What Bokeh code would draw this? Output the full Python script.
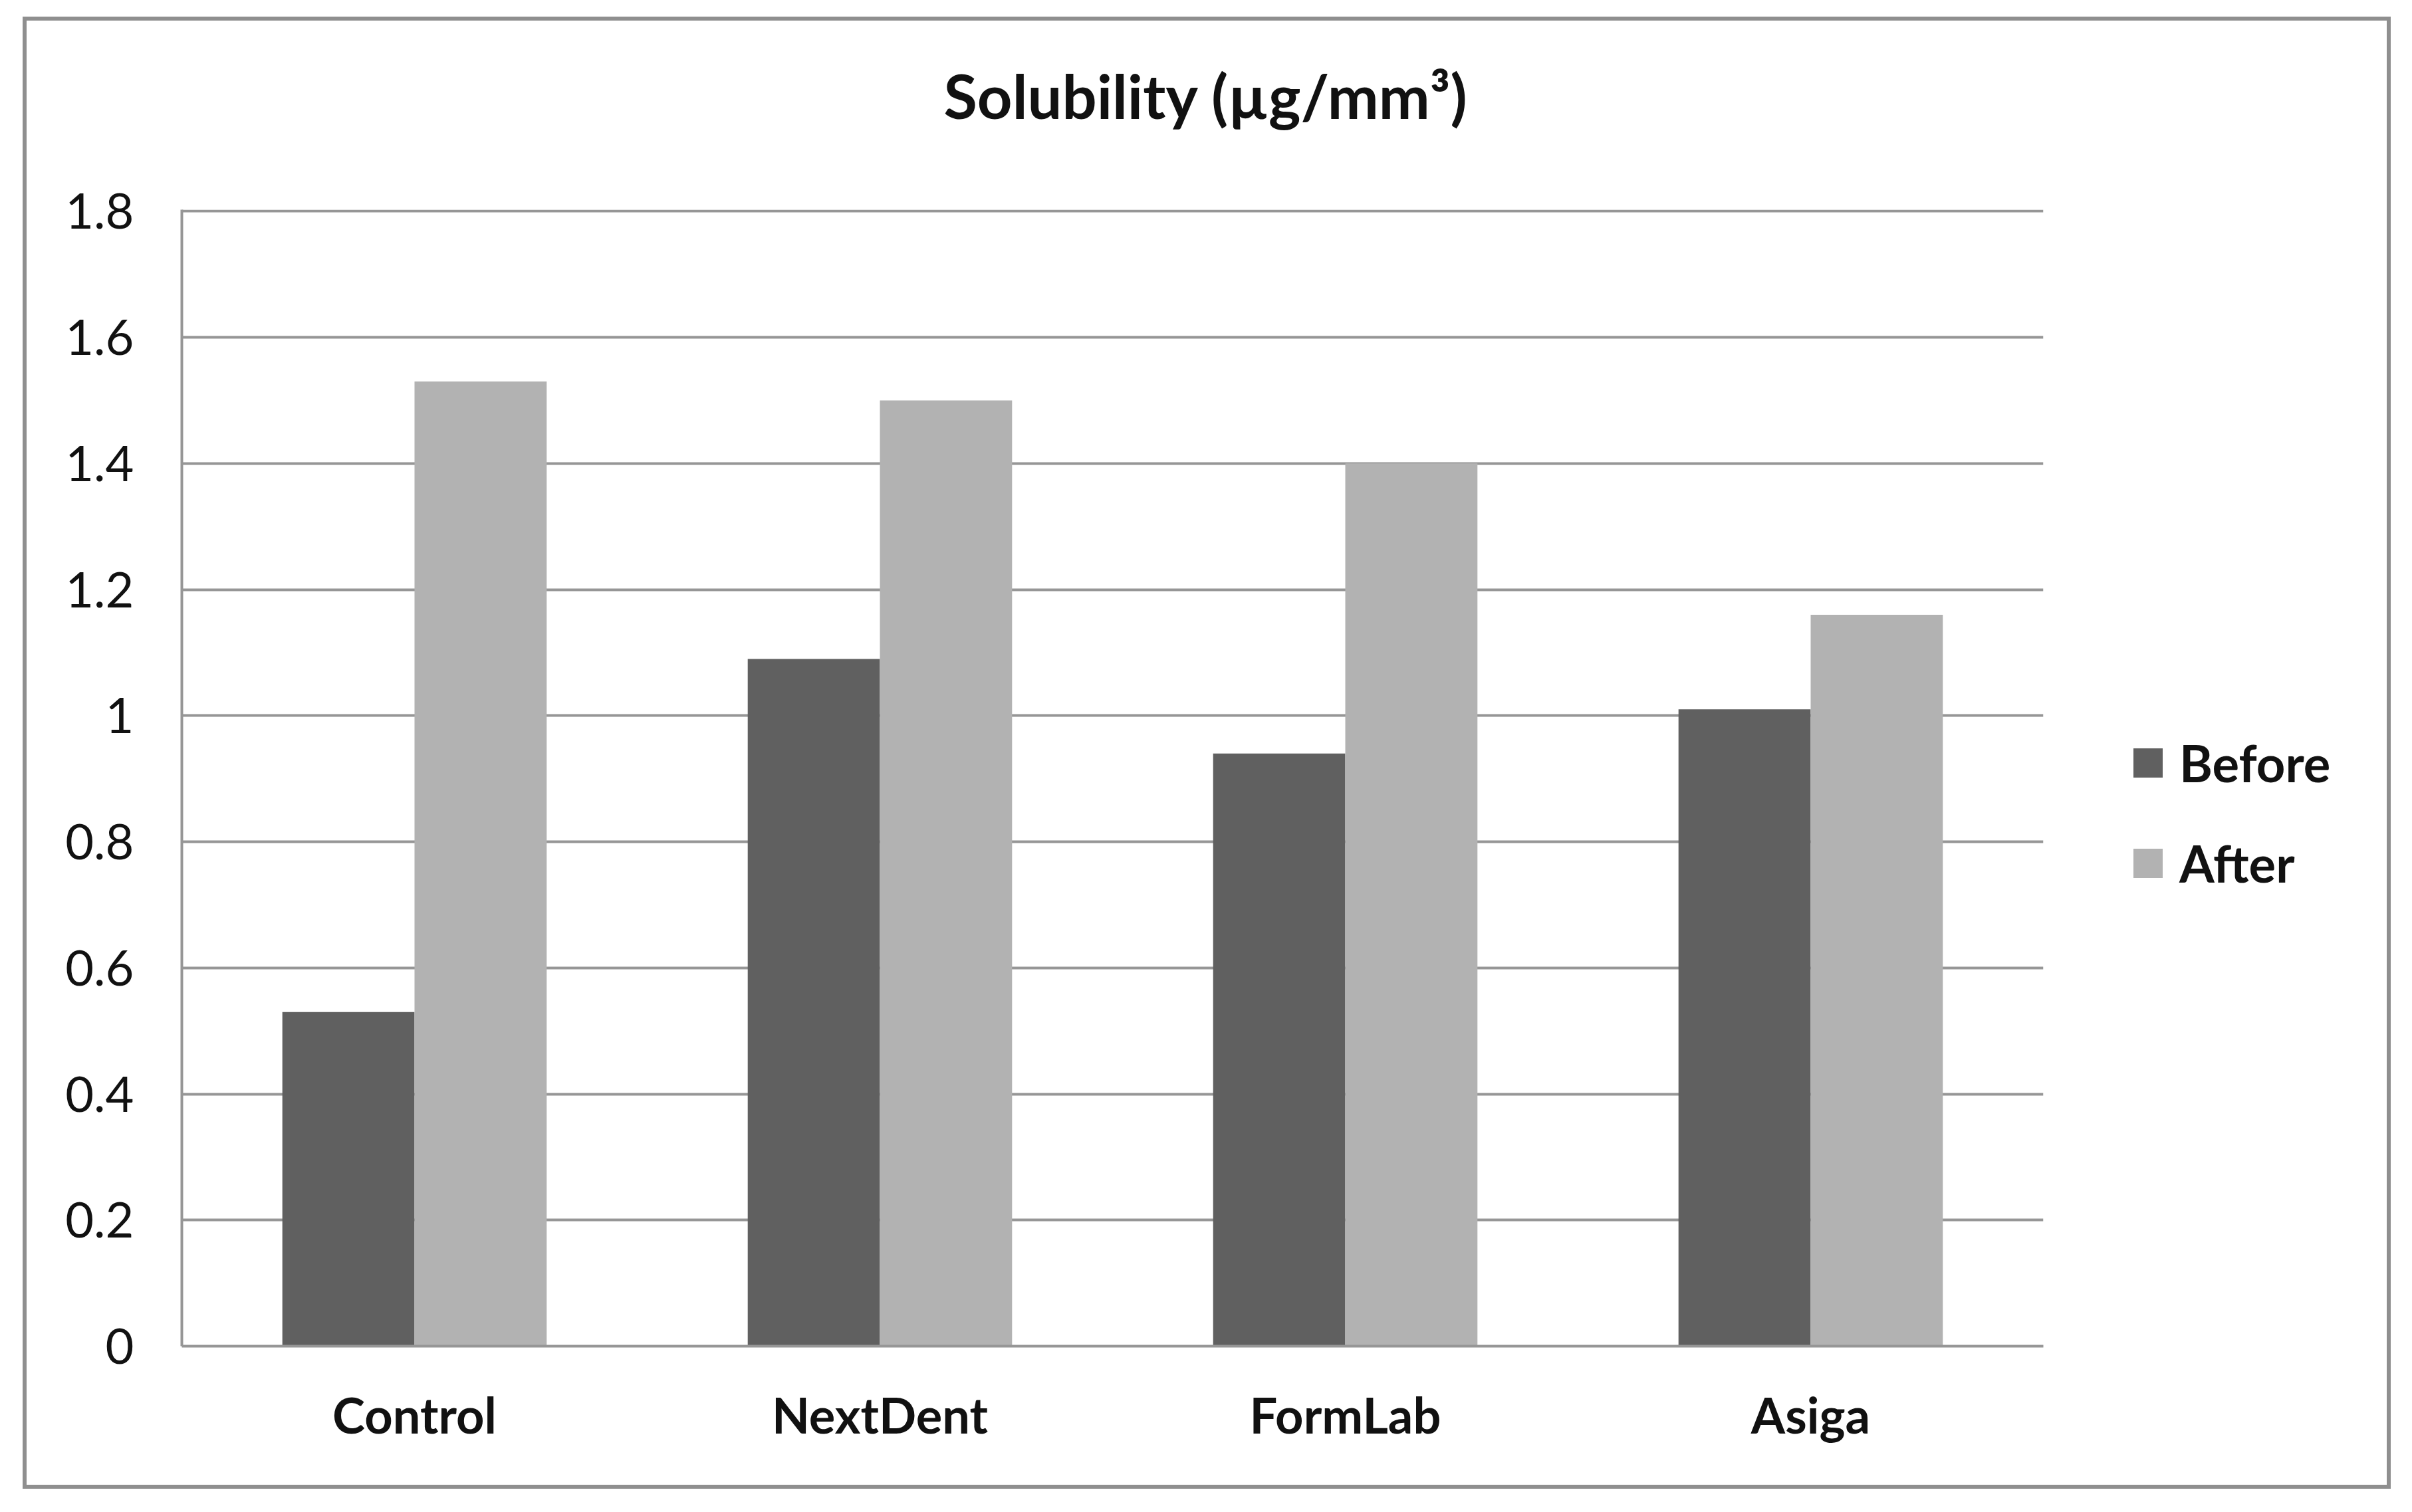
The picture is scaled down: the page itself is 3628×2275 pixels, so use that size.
from bokeh.plotting import figure
from bokeh.models import (ColumnDataSource, FactorRange, FixedTicker, Legend, LegendItem,
                          Title, Range1d)
from bokeh.transform import dodge
from bokeh.embed import file_html
from bokeh.resources import INLINE

# ---- data ----
categories = ["Control", "NextDent", "FormLab", "Asiga"]
before = [0.53, 1.09, 0.94, 1.01]
after = [1.53, 1.50, 1.40, 1.16]
y_ticks = [0, 0.2, 0.4, 0.6, 0.8, 1.0, 1.2, 1.4, 1.6, 1.8]
y_tick_labels = ["0", "0.2", "0.4", "0.6", "0.8", "1", "1.2", "1.4", "1.6", "1.8"]
series_names = ["Before", "After"]
title_text = "Solubility (\u00b5g/mm\u00b3)"

FONT = "Lato"
MX, MY = 17, 8                      # figure offset on the page
W, H = 3596, 2249
FL, FR, FT, FB = 256, 3056, 307, 2017  # frame edges in figure coords
GRID = "#969696"

src = ColumnDataSource(dict(cat=categories, before=before, after=after))

p = figure(x_range=FactorRange(*categories, range_padding=0), y_range=Range1d(0, 1.8025),
           frame_width=FR - FL, frame_height=FB - FT,
           output_backend="svg", toolbar_location=None,
           min_border_left=FL, min_border_right=W - FR, min_border_top=FT,
           min_border_bottom=H - FB, title=None)
p.outline_line_color = None
p.background_fill_color = "white"
p.border_fill_color = None
p.styles = {"box-shadow": "inset 0 0 0 17px #ffffff, inset 0 0 0 23px #8f8f8f",
            "margin-left": f"{MX}px", "margin-top": f"{MY}px",
            "width": f"{W}px", "height": f"{H}px", "overflow": "hidden"}

bw = 0.284
r1 = p.vbar(x=dodge("cat", -bw / 2, range=p.x_range), top="before", width=bw,
            source=src, fill_color="#606060", line_color=None)
r2 = p.vbar(x=dodge("cat", bw / 2, range=p.x_range), top="after", width=bw,
            source=src, fill_color="#b2b2b2", line_color=None)

# y axis
p.yaxis.ticker = FixedTicker(ticks=y_ticks)
p.yaxis.major_label_overrides = {t: l for t, l in zip(y_ticks, y_tick_labels)}
p.yaxis.major_tick_out = 0
p.yaxis.major_tick_in = 0
p.yaxis.minor_tick_line_color = None
p.yaxis.axis_line_color = GRID
p.yaxis.axis_line_width = 4
p.yaxis.major_label_text_font = FONT
p.yaxis.major_label_text_font_size = "74px"
p.yaxis.major_label_text_color = "#111111"
p.yaxis.major_label_standoff = 72

# x axis
p.xaxis.major_tick_out = 0
p.xaxis.major_tick_in = 0
p.xaxis.axis_line_color = GRID
p.xaxis.axis_line_width = 4
p.xaxis.major_label_text_font = FONT
p.xaxis.major_label_text_font_style = "bold"
p.xaxis.major_label_text_font_size = "74px"
p.xaxis.major_label_text_color = "#111111"
p.xaxis.major_label_standoff = 58

p.xgrid.grid_line_color = None
p.ygrid.grid_line_color = GRID
p.ygrid.grid_line_width = 4

# title (a blank spacer title sits between the chart title and the frame)
p.add_layout(Title(text=" ", text_font=FONT, text_font_size="83px"), "above")
p.add_layout(Title(text=title_text, align="left", offset=1146, text_font=FONT,
                   text_font_style="bold", text_font_size="92px", text_color="#111111"),
             "above")

# legend
legend = Legend(items=[LegendItem(label=series_names[0], renderers=[r1]),
                       LegendItem(label=series_names[1], renderers=[r2])],
                location=(130, 681), orientation="vertical",
                glyph_width=55, glyph_height=55, label_standoff=20,
                label_text_font=FONT, label_text_font_style="bold",
                label_text_font_size="76px", label_text_color="#111111",
                spacing=60, padding=0, margin=0,
                border_line_color=None, background_fill_alpha=0)
p.add_layout(legend, "right")

open("out.html", "w").write(file_html(p, INLINE))
